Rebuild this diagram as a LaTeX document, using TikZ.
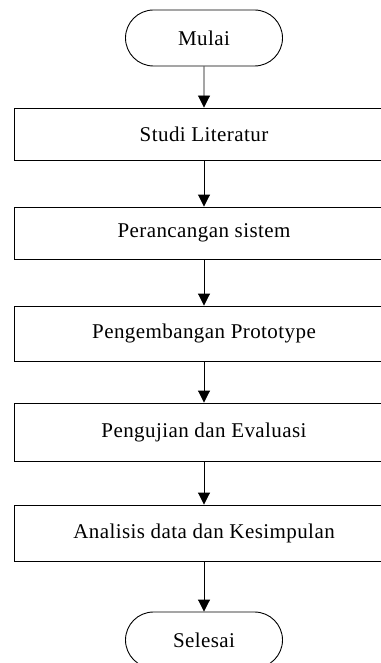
\documentclass[tikz,border=0pt]{standalone}
\usepackage{fontspec}
\setmainfont{Liberation Serif}[LetterSpace=2]
\usepackage{tikz}
\usetikzlibrary{arrows.meta, shapes.misc}

\begin{document}
\begin{tikzpicture}[x=1pt, y=1pt,
		proses/.style={draw, line width=0.9pt, minimum width=380pt, inner sep=0pt,
			font=\fontsize{21}{25}\selectfont},
		terminal/.style={draw, rounded rectangle, line width=0.9pt, minimum width=157pt,
			minimum height=56pt, inner sep=0pt, font=\fontsize{21}{25}\selectfont},
		panah/.style={-{Triangle[length=12pt, width=12pt]}, line width=0.9pt}]
	
	\useasboundingbox (0,0) rectangle (380,-663);
	
	%--- start / end ---
	\node[terminal] (mulai) at (204,-38) {Mulai};
	\node[terminal] (selesai) at (204,-640) {Selesai};
	
	%--- steps ---
	\node[proses, minimum height=52pt] (studi) at (204,-134) {Studi Literatur};
	\node[proses, minimum height=52pt] (rancang) at (204,-233) {Perancangan sistem};
	\node[proses, minimum height=55pt] (kembang) at (204,-333.5) {Pengembangan Prototype};
	\node[proses, minimum height=58pt] (uji) at (204,-432) {Pengujian dan Evaluasi};
	\node[proses, minimum height=56pt] (analisis) at (204,-533) {Analisis data dan Kesimpulan};
	
	%--- arrows ---
	\draw[panah] (mulai) -- (studi);
	\draw[panah] (studi) -- (rancang);
	\draw[panah] (rancang) -- (kembang);
	\draw[panah] (kembang) -- (uji);
	\draw[panah] (uji) -- (analisis);
	\draw[panah] (analisis) -- (selesai);
\end{tikzpicture}
\end{document}
